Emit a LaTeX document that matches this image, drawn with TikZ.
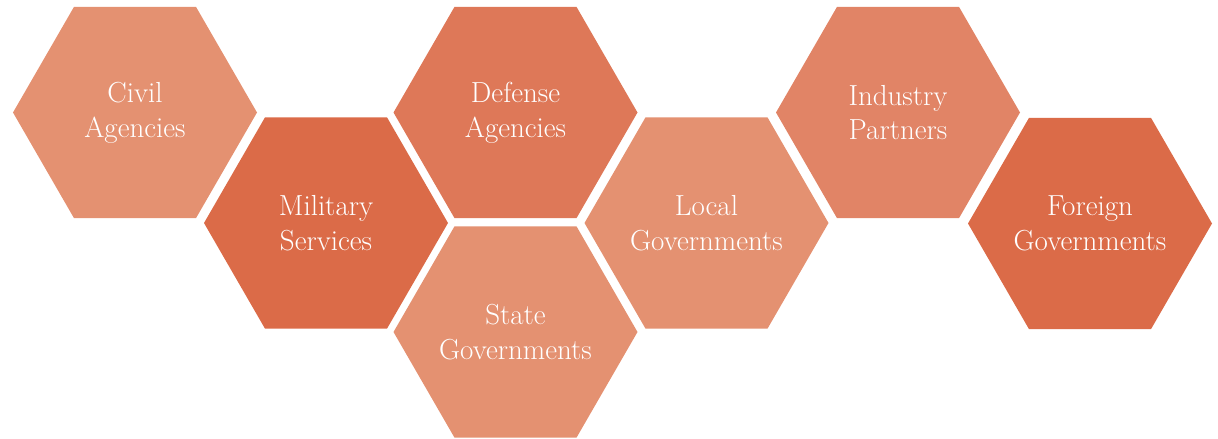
\documentclass[tikz,border=0pt]{standalone}
\usetikzlibrary{shapes.geometric}
\definecolor{hexlight}{HTML}{E49171}
\definecolor{hexwarm}{HTML}{E18466}
\definecolor{hexmid}{HTML}{DE7858}
\definecolor{hexdark}{HTML}{DB6B48}
\tikzset{hexcell/.style={regular polygon, regular polygon sides=6, minimum size=4.88cm, inner sep=0pt, outer sep=0pt, draw=none},
  celltext/.style={text=white, align=center, inner sep=0pt, font=\fontsize{16.5}{19.8}\selectfont}}
\begin{document}
\begin{tikzpicture}
\useasboundingbox (0,0) rectangle (24.36,-8.78);
\node (civil) at (2.70,-2.25) [hexcell, fill=hexlight, label={[celltext]center:Civil \\ Agencies}] {};
\node (military) at (6.52,-4.46) [hexcell, fill=hexdark, label={[celltext]center:Military \\ Services}] {};
\node (defense) at (10.31,-2.25) [hexcell, fill=hexmid, label={[celltext]center:Defense \\ Agencies}] {};
\node (state) at (10.31,-6.64) [hexcell, fill=hexlight, label={[celltext]center:State \\ Governments}] {};
\node (local) at (14.13,-4.46) [hexcell, fill=hexlight, label={[celltext]center:Local \\ Governments}] {};
\node (industry) at (17.96,-2.25) [hexcell, fill=hexwarm, label={[celltext]center:Industry \\ Partners}] {};
\node (foreign) at (21.80,-4.47) [hexcell, fill=hexdark, label={[celltext]center:Foreign \\ Governments}] {};
\end{tikzpicture}
\end{document}
